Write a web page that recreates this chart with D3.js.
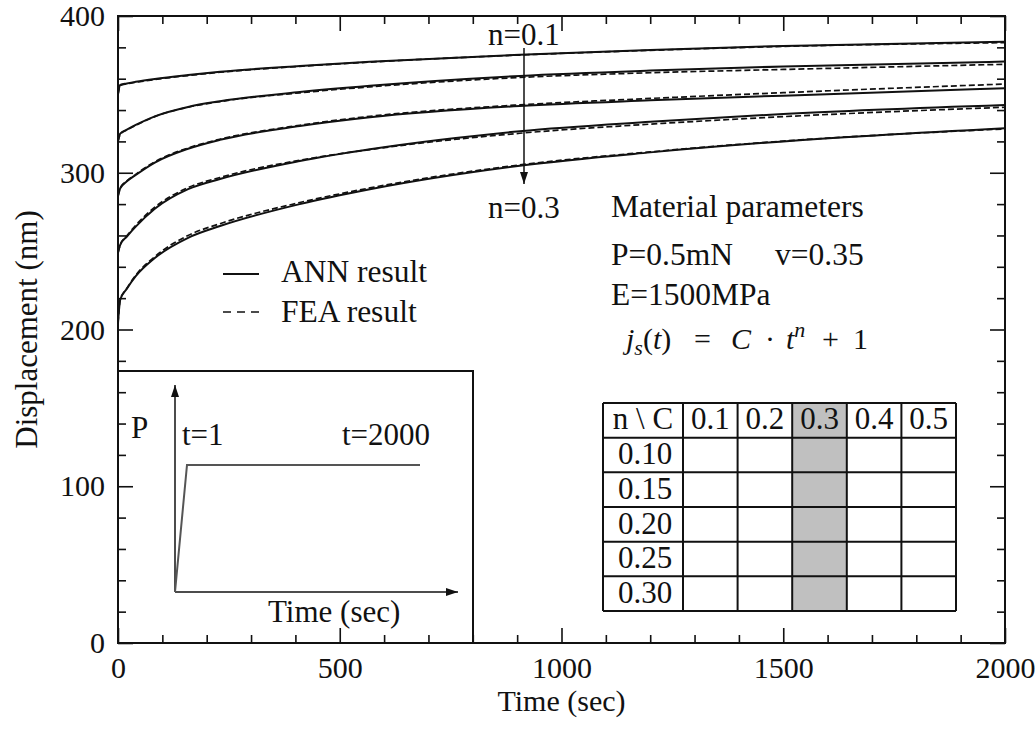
<!DOCTYPE html>
<html>
<head>
<meta charset="utf-8">
<script src="https://cdn.jsdelivr.net/npm/d3@7"></script>
<style>
  body { margin: 0; background: #fff; }
  svg { display: block; }
  text { font-family: "Liberation Serif", "Times New Roman", serif; fill: #111; }
</style>
</head>
<body>
<svg id="chart" width="1035" height="734"></svg>
<script>
// Sample times (sec) at which the creep displacement is tabulated
const times = [0, 5, 20, 40, 83, 158, 230, 410, 568, 906, 1200, 1500, 2000];

// Displacement (nm), C = 0.3, one series per creep exponent n
const annN010 = [350, 356, 357, 358, 359.8, 362.3, 364.4, 368.1, 370.8, 375.3, 378.3, 380.9, 383.6];
const feaN010 = [350, 355.6, 356.7, 357.7, 359.5, 362, 364.1, 367.9, 370.6, 375.1, 378.1, 380.6, 383];
const annN015 = [320, 325, 327.5, 330.5, 336, 342, 345.6, 351.5, 355.5, 361.8, 365.2, 367.8, 370.9];
const feaN015 = [320, 324.6, 327.2, 330.2, 335.8, 341.8, 345.4, 351, 354.8, 360.8, 363.8, 365.9, 369.2];
const annN020 = [285, 290, 294.5, 298.6, 306.5, 315.3, 321, 329.8, 335.4, 342.6, 346.2, 349.2, 353.9];
const feaN020 = [285, 290.3, 294.8, 299, 307, 315.8, 321.4, 330.3, 336, 343.3, 347.4, 351.1, 356.6];
const annN025 = [249, 254, 259.3, 265.6, 277, 289.5, 296, 307.5, 315, 326.5, 332.5, 337.5, 343.2];
const feaN025 = [249, 254, 259.8, 266.5, 278, 290.5, 297, 308, 314.8, 325.2, 331, 335.8, 341.8];
const annN030 = [204, 219, 226, 234, 245.6, 258.5, 266, 280, 289.5, 304.5, 313, 320, 328.4];
const feaN030 = [204, 219, 226.3, 234.6, 246.5, 260, 267.5, 281, 290.3, 305, 313.3, 320.2, 328];

const annSeries = [annN010, annN015, annN020, annN025, annN030];
const feaSeries = [feaN010, feaN015, feaN020, feaN025, feaN030];

// Axis ticks
const xMajorTicks = [0, 500, 1000, 1500, 2000];
const yMajorTicks = [0, 100, 200, 300, 400];

// Parameter grid shown in the table
const tableC = ["0.1", "0.2", "0.3", "0.4", "0.5"];
const tableN = ["0.10", "0.15", "0.20", "0.25", "0.30"];
const highlightC = "0.3";

// Load history sketch: time and normalised load
const loadTimes = [0, 1, 2000];
const loadLevels = [0, 1, 1];

const svg = d3.select("#chart");
const frame = { left: 118, right: 1005, top: 16, bottom: 643 };

const x = d3.scaleLinear().domain([0, 2000]).range([frame.left, frame.right]);
const y = d3.scaleLinear().domain([0, 400]).range([frame.bottom, frame.top]);

const FONT = 30;
const NOTE = 31;

svg.append("defs").html(`
  <marker id="head" viewBox="0 0 12 8" refX="12" refY="4" markerWidth="12" markerHeight="8"
          markerUnits="userSpaceOnUse" orient="auto">
    <path d="M0,0 L12,4 L0,8 Z" fill="#111"/>
  </marker>`);

// ---- axes with inward ticks on all four sides ----
const xMinor = d3.range(0, 2001, 100).filter(v => v % 500 !== 0);
const yMinor = d3.range(0, 401, 20).filter(v => v % 100 !== 0);

function styleAxis(g) {
  g.select(".domain").remove();
  g.selectAll("line").attr("stroke", "#111").attr("stroke-width", 1.6);
  g.selectAll("text").style("font-size", FONT + "px").attr("fill", "#111")
    .style("font-family", '"Liberation Serif", "Times New Roman", serif');
}

// bottom
svg.append("g").attr("transform", `translate(0,${frame.bottom})`)
  .call(d3.axisBottom(x).tickValues(xMajorTicks).tickSizeInner(-15).tickSizeOuter(0).tickPadding(14)
    .tickFormat(d3.format("d")))
  .call(styleAxis);
svg.append("g").attr("transform", `translate(0,${frame.bottom})`)
  .call(d3.axisBottom(x).tickValues(xMinor).tickSizeInner(-8).tickSizeOuter(0).tickFormat(""))
  .call(styleAxis);
// top
svg.append("g").attr("transform", `translate(0,${frame.top})`)
  .call(d3.axisTop(x).tickValues(xMajorTicks).tickSizeInner(-15).tickSizeOuter(0).tickFormat(""))
  .call(styleAxis);
svg.append("g").attr("transform", `translate(0,${frame.top})`)
  .call(d3.axisTop(x).tickValues(xMinor).tickSizeInner(-8).tickSizeOuter(0).tickFormat(""))
  .call(styleAxis);
// left
svg.append("g").attr("transform", `translate(${frame.left},0)`)
  .call(d3.axisLeft(y).tickValues(yMajorTicks).tickSizeInner(-15).tickSizeOuter(0).tickPadding(13)
    .tickFormat(d3.format("d")))
  .call(styleAxis);
svg.append("g").attr("transform", `translate(${frame.left},0)`)
  .call(d3.axisLeft(y).tickValues(yMinor).tickSizeInner(-8).tickSizeOuter(0).tickFormat(""))
  .call(styleAxis);
// right
svg.append("g").attr("transform", `translate(${frame.right},0)`)
  .call(d3.axisRight(y).tickValues(yMajorTicks).tickSizeInner(-15).tickSizeOuter(0).tickFormat(""))
  .call(styleAxis);
svg.append("g").attr("transform", `translate(${frame.right},0)`)
  .call(d3.axisRight(y).tickValues(yMinor).tickSizeInner(-8).tickSizeOuter(0).tickFormat(""))
  .call(styleAxis);

// plot frame
svg.append("rect")
  .attr("x", frame.left).attr("y", frame.top)
  .attr("width", frame.right - frame.left).attr("height", frame.bottom - frame.top)
  .attr("fill", "none").attr("stroke", "#111").attr("stroke-width", 2);

// axis titles
svg.append("text")
  .attr("x", (frame.left + frame.right) / 2).attr("y", 711)
  .attr("text-anchor", "middle").style("font-size", FONT + "px")
  .text("Time (sec)");
svg.append("text")
  .attr("transform", `translate(37,${(frame.top + frame.bottom) / 2}) rotate(-90)`)
  .attr("text-anchor", "middle").style("font-size", "31px")
  .text("Displacement (nm)");

// ---- curves ----
const line = d3.line()
  .x((d, i) => x(times[i]))
  .y(d => y(d))
  .curve(d3.curveMonotoneX);

svg.append("g").selectAll("path.fea").data(feaSeries).join("path")
  .attr("class", "fea")
  .attr("d", line)
  .attr("fill", "none").attr("stroke", "#111").attr("stroke-width", 1.7)
  .attr("stroke-dasharray", "6,3");

svg.append("g").selectAll("path.ann").data(annSeries).join("path")
  .attr("class", "ann")
  .attr("d", line)
  .attr("fill", "none").attr("stroke", "#111").attr("stroke-width", 2);

// ---- n direction arrow ----
svg.append("line")
  .attr("x1", 524).attr("y1", 48).attr("x2", 524).attr("y2", 184)
  .attr("stroke", "#111").attr("stroke-width", 1.5)
  .attr("marker-end", "url(#head)");
svg.append("text").attr("x", 488).attr("y", 45).style("font-size", NOTE + "px").text("n=0.1");
svg.append("text").attr("x", 488).attr("y", 218).style("font-size", NOTE + "px").text("n=0.3");

// ---- material parameters ----
svg.append("text").attr("x", 611).attr("y", 217).style("font-size", "31.5px").text("Material parameters");
svg.append("text").attr("x", 611).attr("y", 265).style("font-size", "31.5px").text("P=0.5mN");
svg.append("text").attr("x", 775).attr("y", 265).style("font-size", "31.5px").text("v=0.35");
svg.append("text").attr("x", 611).attr("y", 305).style("font-size", "31.5px").text("E=1500MPa");

// creep function j_s(t) = C · t^n + 1
const eq = svg.append("text").attr("y", 349).style("font-size", "30px");
eq.append("tspan").attr("x", 626).style("font-style", "italic").text("j");
eq.append("tspan").attr("dy", 6).style("font-style", "italic").style("font-size", "22px").text("s");
eq.append("tspan").attr("dy", -6).text("(");
eq.append("tspan").style("font-style", "italic").text("t");
eq.append("tspan").text(")");
eq.append("tspan").attr("x", 694).text("=");
eq.append("tspan").attr("x", 731).style("font-style", "italic").text("C");
eq.append("tspan").attr("x", 765).text("·");
eq.append("tspan").attr("x", 786).style("font-style", "italic").text("t");
eq.append("tspan").attr("dy", -12).style("font-style", "italic").style("font-size", "22px").text("n");
eq.append("tspan").attr("x", 822).attr("dy", 12).text("+");
eq.append("tspan").attr("x", 853).text("1");

// ---- legend ----
svg.append("line").attr("x1", 223).attr("x2", 259).attr("y1", 274).attr("y2", 274)
  .attr("stroke", "#111").attr("stroke-width", 2);
svg.append("text").attr("x", 281).attr("y", 282).style("font-size", "31.5px").text("ANN result");
svg.append("line").attr("x1", 223).attr("x2", 259).attr("y1", 312).attr("y2", 312)
  .attr("stroke", "#111").attr("stroke-width", 1.7).attr("stroke-dasharray", "8,6");
svg.append("text").attr("x", 281).attr("y", 322).style("font-size", "31.5px").text("FEA result");

// ---- inset: load history ----
const inset = { left: frame.left, top: 371, right: 473, bottom: frame.bottom };
svg.append("rect")
  .attr("x", inset.left).attr("y", inset.top)
  .attr("width", inset.right - inset.left).attr("height", inset.bottom - inset.top)
  .attr("fill", "none").attr("stroke", "#111").attr("stroke-width", 2);

const ix = d3.scaleLinear().domain([0, 1, 2000]).range([175, 187, 420]);
const iy = d3.scaleLinear().domain([0, 1]).range([592, 465]);

svg.append("line").attr("x1", ix(0)).attr("y1", iy(0)).attr("x2", ix(0)).attr("y2", 385)
  .attr("stroke", "#111").attr("stroke-width", 1.5).attr("marker-end", "url(#head)");
svg.append("line").attr("x1", ix(0)).attr("y1", iy(0)).attr("x2", 458).attr("y2", iy(0))
  .attr("stroke", "#111").attr("stroke-width", 1.5).attr("marker-end", "url(#head)");

svg.append("path")
  .attr("d", d3.line().x((d, i) => ix(loadTimes[i])).y(d => iy(d))(loadLevels))
  .attr("fill", "none").attr("stroke", "#555").attr("stroke-width", 2);

svg.append("text").attr("x", 131).attr("y", 438).style("font-size", NOTE + "px").text("P");
svg.append("text").attr("x", 182).attr("y", 445).style("font-size", NOTE + "px").text("t=1");
svg.append("text").attr("x", 342).attr("y", 445).style("font-size", NOTE + "px").text("t=2000");
svg.append("text").attr("x", 268).attr("y", 622).style("font-size", NOTE + "px").text("Time (sec)");

// ---- parameter table ----
const firstColLeft = 603, firstColRight = 683;
const colX = d3.scaleBand().domain(tableC).range([firstColRight, 956]);
const rowKeys = ["head"].concat(tableN);
const rowY = d3.scaleBand().domain(rowKeys).range([403, 611]);

const table = svg.append("g");
table.append("rect")
  .attr("x", colX(highlightC)).attr("y", rowY.range()[0])
  .attr("width", colX.bandwidth()).attr("height", rowY.range()[1] - rowY.range()[0])
  .attr("fill", "#c0c0c0");

// horizontal rules
table.selectAll("line.h").data(rowKeys.map(k => rowY(k)).concat([rowY.range()[1]])).join("line")
  .attr("x1", firstColLeft).attr("x2", colX.range()[1])
  .attr("y1", d => d).attr("y2", d => d)
  .attr("stroke", "#111").attr("stroke-width", 2);
// vertical rules
table.selectAll("line.v").data([firstColLeft].concat(tableC.map(c => colX(c))).concat([colX.range()[1]])).join("line")
  .attr("x1", d => d).attr("x2", d => d)
  .attr("y1", rowY.range()[0]).attr("y2", rowY.range()[1])
  .attr("stroke", "#111").attr("stroke-width", 2);

table.append("text")
  .attr("x", (firstColLeft + firstColRight) / 2).attr("y", rowY("head") + rowY.bandwidth() - 9)
  .attr("text-anchor", "middle").style("font-size", NOTE + "px").text("n \\ C");
table.selectAll("text.ch").data(tableC).join("text")
  .attr("class", "ch")
  .attr("x", d => colX(d) + colX.bandwidth() / 2).attr("y", rowY("head") + rowY.bandwidth() - 9)
  .attr("text-anchor", "middle").style("font-size", NOTE + "px").text(d => d);
table.selectAll("text.rh").data(tableN).join("text")
  .attr("class", "rh")
  .attr("x", (firstColLeft + firstColRight) / 2 + 2).attr("y", d => rowY(d) + rowY.bandwidth() - 8)
  .attr("text-anchor", "middle").style("font-size", NOTE + "px").text(d => d);
</script>
</body>
</html>
